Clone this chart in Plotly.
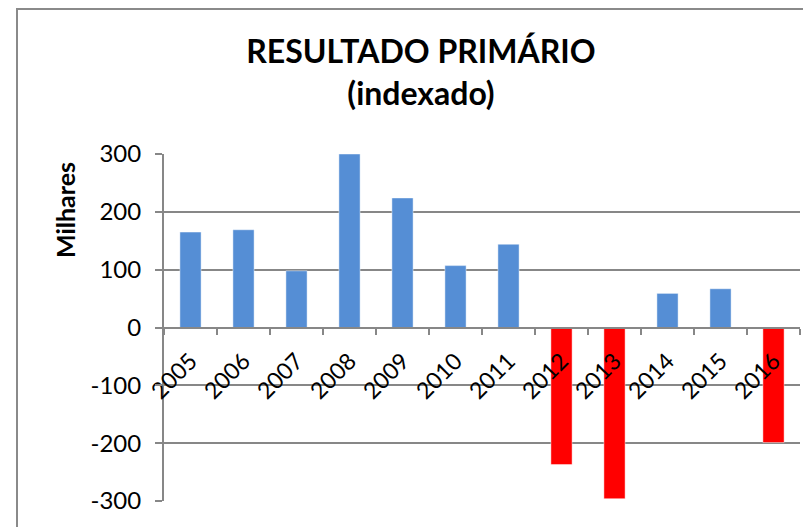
import plotly.graph_objects as go

years = ["2005", "2006", "2007", "2008", "2009", "2010", "2011",
         "2012", "2013", "2014", "2015", "2016"]
values = [165, 169, 98, 300, 224, 107, 144, -237, -296, 59, 67, -199]
y_ticks = [-300, -200, -100, 0, 100, 200, 300]

BLUE = "#558ED5"
RED = "#FF0000"
GRID = "#878787"
FONT = "Lato"

colors = [BLUE if v >= 0 else RED for v in values]

W, H = 811, 527
OFF = 8  # page body margin in the browser
# plot area in window pixels: x 164..800, y 154..501
L, R, T, B = 164 - OFF, W - (800 - OFF), 154 - OFF, H - (501 - OFF)
pw, ph = W - L - R, H - T - B

fig = go.Figure()
fig.add_trace(go.Bar(
    x=years, y=values,
    marker=dict(color=colors, line=dict(color="rgba(255,255,255,0.45)", width=1)),
    showlegend=False,
))

fig.update_layout(
    width=W, height=H,
    margin=dict(l=L, r=R, t=T, b=B, pad=0, autoexpand=False),
    paper_bgcolor="white", plot_bgcolor="white",
    bargap=0.6,
    font=dict(family=FONT, color="black", size=23),
    title=dict(
        text="<b>RESULTADO PRIMÁRIO</b><br><b>(indexado)</b>",
        font=dict(family=FONT, size=32, color="black"),
        x=(421 - OFF) / W, xref="container", xanchor="center",
        y=1 - 55 / H, yref="container", yanchor="top",
    ),
    xaxis=dict(
        type="category",
        anchor="free", position=0.5,
        automargin=False,
        showline=True, linecolor=GRID, linewidth=2,
        ticks="outside", ticklen=6, tickcolor=GRID, tickwidth=2,
        tickson="boundaries",
        tickangle=-45,
        ticklabelstandoff=10,
        showgrid=False, zeroline=False,
        tickfont=dict(family=FONT, size=23, color="black"),
    ),
    yaxis=dict(
        range=[-300, 300],
        automargin=False,
        tickvals=y_ticks,
        ticktext=[str(v) for v in y_ticks],
        showline=True, linecolor=GRID, linewidth=2,
        ticks="outside", ticklen=7, tickcolor=GRID, tickwidth=2,
        showgrid=True, gridcolor=GRID, gridwidth=2,
        zeroline=False,
        ticklabelstandoff=9,
        tickfont=dict(family=FONT, size=24, color="black"),
    ),
)

# y-axis title (placed high, as in the reference)
fig.add_annotation(
    text="<b>Milhares</b>", xref="paper", yref="paper",
    x=(65 - OFF - L) / pw, y=(H - B - (210 - OFF)) / ph,
    xanchor="center", yanchor="middle", textangle=-90, showarrow=False,
    font=dict(family=FONT, size=25, color="black"),
)

# outer chart border (chart area partly cropped in the reference)
fig.add_shape(
    type="rect", xref="paper", yref="paper",
    x0=(17 - OFF - L) / pw, x1=(W + 20 - L) / pw,
    y0=-(B + 20) / ph, y1=(H - B - (9 - OFF)) / ph,
    line=dict(color="#8A8A8A", width=2), fillcolor="rgba(0,0,0,0)",
    layer="below",
)

fig.write_html("out.html")
